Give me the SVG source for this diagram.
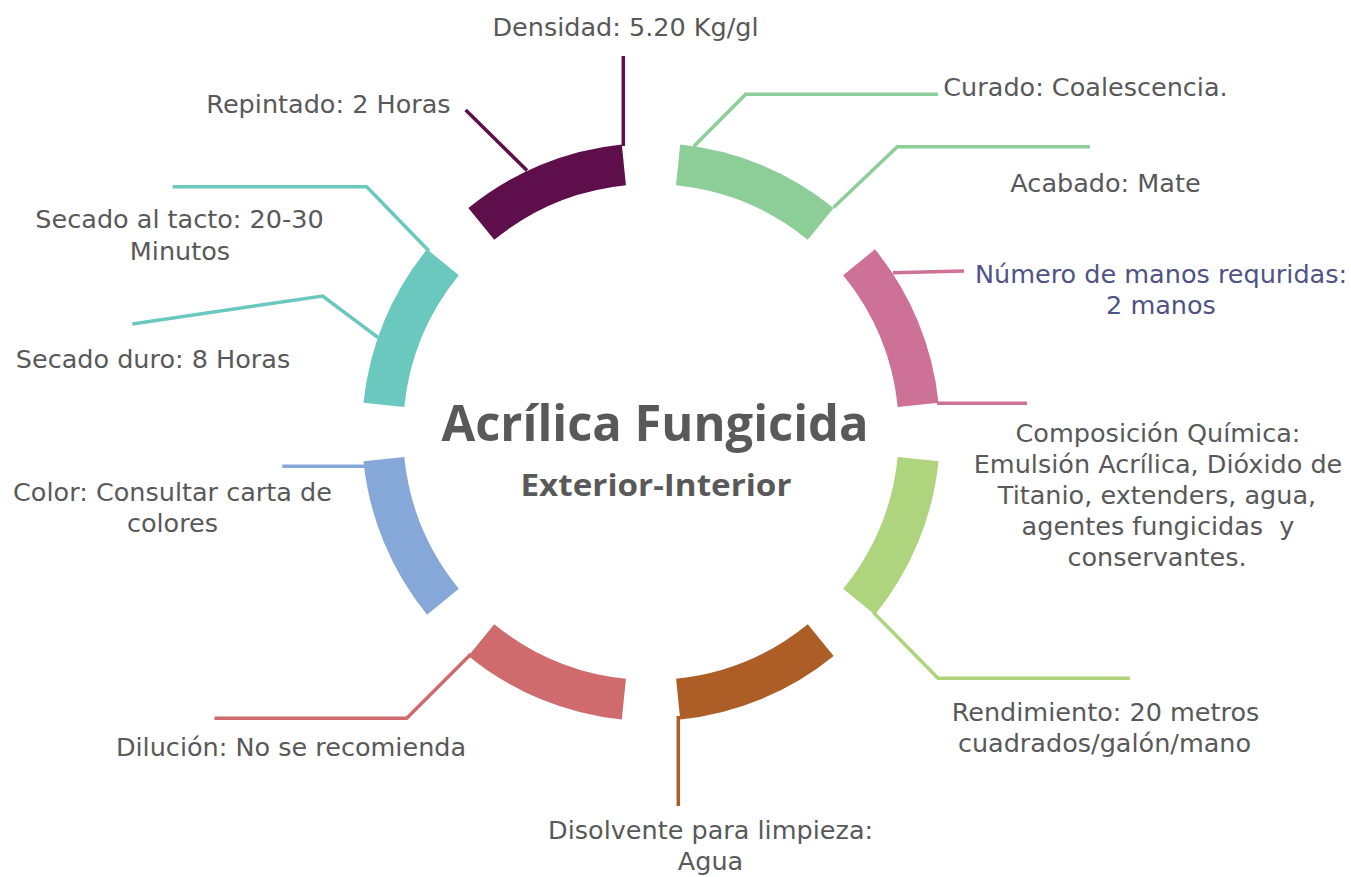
<svg xmlns="http://www.w3.org/2000/svg" xmlns:xlink="http://www.w3.org/1999/xlink" width="1351" height="877" viewBox="0 0 1351 877">
<defs>
<path id="seg" d="M 680.21 144.48 A 289 289 0 0 1 833.66 208.04 L 807.74 239.81 A 248 248 0 0 0 676.06 185.27 Z"/>
</defs>
<style>
.lbl{font-family:"DejaVu Sans","Liberation Sans",sans-serif;font-size:25.5px;fill:#595959;text-anchor:middle}
.blue{fill:#4F5387}
.title{font-family:"Open Sans","Noto Sans","DejaVu Sans",sans-serif;font-weight:bold;fill:#595959;text-anchor:middle}
.c{fill:none;stroke-width:3.5;stroke-linejoin:miter}
</style>
<rect width="1351" height="877" fill="#ffffff"/>
<g id="connectors">
<path class="c" stroke="#5E0E4A" d="M 623.3 56 V 146"/>
<path class="c" stroke="#5E0E4A" d="M 465.7 110 L 527 170.5"/>
<path class="c" stroke="#8DCD98" d="M 693.7 146.5 L 745.7 94.3 H 938"/>
<path class="c" stroke="#8DCD98" d="M 833.5 207.5 L 897.3 146.7 H 1090"/>
<path class="c" stroke="#CE7196" d="M 893 272.7 L 964 271"/>
<path class="c" stroke="#CE7196" d="M 937 403.3 H 1027"/>
<path class="c" stroke="#AED47D" d="M 873.5 612.5 L 938 678.3 H 1130"/>
<path class="c" stroke="#AD5E27" d="M 678.3 716 V 806"/>
<path class="c" stroke="#CF6B6D" d="M 471 654 L 406.7 718.3 H 214.5"/>
<path class="c" stroke="#85A8D8" d="M 282.3 466.3 H 368"/>
<path class="c" stroke="#6BC8BE" d="M 172.7 186.7 H 366.7 L 429 251"/>
<path class="c" stroke="#6BC8BE" d="M 132.3 324 L 322.7 296 L 378 337.5"/>
</g>
<g id="node-curado"><use xlink:href="#seg" href="#seg" fill="#8DCD98"/><text class="lbl" x="1085.5" y="96">Curado: Coalescencia.</text></g>
<g id="node-acabado"><text class="lbl" x="1105.5" y="191.5">Acabado: Mate</text></g>
<g id="node-manos"><use xlink:href="#seg" href="#seg" fill="#CE7196" transform="rotate(45 651 432)"/><text class="lbl blue" x="1161" y="283.3">Número de manos requridas:</text><text class="lbl blue" x="1161" y="314">2 manos</text></g>
<g id="node-composicion"><text class="lbl" x="1158" y="441.7">Composición Química:</text><text class="lbl" x="1158" y="472.7">Emulsión Acrílica, Dióxido de</text><text class="lbl" x="1157" y="503.7">Titanio, extenders, agua,</text><text class="lbl" x="1158" y="534.7" xml:space="preserve">agentes fungicidas  y</text><text class="lbl" x="1157" y="565.5">conservantes.</text></g>
<g id="node-rendimiento"><use xlink:href="#seg" href="#seg" fill="#AED47D" transform="rotate(90 651 432)"/><text class="lbl" x="1105.5" y="720.7">Rendimiento: 20 metros</text><text class="lbl" x="1104.5" y="752">cuadrados/galón/mano</text></g>
<g id="node-disolvente"><use xlink:href="#seg" href="#seg" fill="#AD5E27" transform="rotate(135 651 432)"/><text class="lbl" x="710.6" y="839.3">Disolvente para limpieza:</text><text class="lbl" x="710.5" y="870">Agua</text></g>
<g id="node-dilucion"><use xlink:href="#seg" href="#seg" fill="#CF6B6D" transform="rotate(180 651 432)"/><text class="lbl" x="291" y="756">Dilución: No se recomienda</text></g>
<g id="node-color"><use xlink:href="#seg" href="#seg" fill="#85A8D8" transform="rotate(225 651 432)"/><text class="lbl" x="172.5" y="500.7">Color: Consultar carta de</text><text class="lbl" x="172.5" y="531.7">colores</text></g>
<g id="node-secado-duro"><use xlink:href="#seg" href="#seg" fill="#6BC8BE" transform="rotate(270 651 432)"/><text class="lbl" x="153" y="368.3">Secado duro: 8 Horas</text></g>
<g id="node-secado-tacto"><text class="lbl" x="179.5" y="227.7">Secado al tacto: 20-30</text><text class="lbl" x="180" y="259.5">Minutos</text></g>
<g id="node-densidad"><use xlink:href="#seg" href="#seg" fill="#5E0E4A" transform="rotate(315 651 432)"/><text class="lbl" x="625.5" y="36">Densidad: 5.20 Kg/gl</text></g>
<g id="node-repintado"><text class="lbl" x="328.5" y="113.3">Repintado: 2 Horas</text></g>
<g id="center">
<text class="title" x="655" y="441" font-size="51" textLength="427" lengthAdjust="spacingAndGlyphs">Acrílica Fungicida</text>
<text class="title" x="656" y="495.5" font-size="31" textLength="271" lengthAdjust="spacingAndGlyphs">Exterior-Interior</text>
</g>
</svg>
